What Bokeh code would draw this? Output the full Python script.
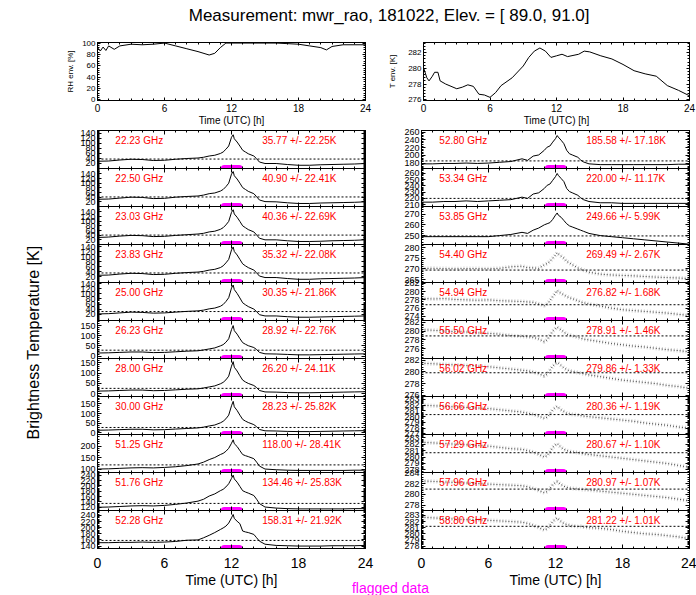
import numpy as np
from bokeh.plotting import figure
from bokeh.layouts import column, row
from bokeh.models import Range1d, FixedTicker, LinearAxis, Span, Label
from bokeh.embed import file_html
from bokeh.resources import INLINE

FONT = "Liberation Sans"

TITLE = "Measurement: mwr_rao, 181022, Elev. = [ 89.0,  91.0]"
X_LABEL = "Time (UTC) [h]"
Y_LABEL = "Brightness Temperature [K]"
FLAG_LABEL = "flagged data"
RH_LABEL = "RH env. [%]"
T_LABEL = "T env. [K]"
HOUR_TICKS = [0, 6, 12, 18, 24]
HOUR_MINOR = list(range(25))

# ---- environment panels ----
rh_hours = [0, 0.25, 0.5, 0.75, 1, 1.5, 2, 3, 4, 5, 6, 7, 8, 9, 10, 10.5, 11, 11.5, 12, 13,
            14, 15, 16, 17, 18, 19, 20, 20.5, 21, 22, 23, 24]
rh_values = [92, 86, 93, 87, 95, 89, 95, 98, 97, 98, 100, 95, 90, 85, 79, 82, 92, 100, 100, 100,
             100, 100, 100, 99, 98, 95, 92, 88, 94, 97, 97, 97]
rh_ticks = [0, 20, 40, 60, 80, 100]

t_hours = [0, 0.3, 0.5, 0.8, 1, 1.3, 1.5, 2, 3, 3.5, 4, 4.5, 5, 5.5, 6, 6.5, 7, 8, 9, 9.5,
           10, 10.5, 11, 11.5, 12, 12.5, 13, 14, 14.5, 15, 16, 17, 18, 19, 20, 21, 22, 23, 24]
t_values = [280.1, 278.8, 278.4, 279.0, 279.5, 279.5, 278.4, 278.0, 277.4, 277.6,
            277.9, 277.7, 276.7, 276.6, 276.3, 276.9, 277.8, 278.8, 280.3, 281.4,
            282.2, 282.6, 282.2, 281.4, 281.6, 281.8, 281.5, 281.8, 282.2, 282.1,
            281.6, 281.2, 280.5, 279.7, 279.3, 279.0, 277.8, 277.2, 276.5]
t_ticks = [276, 278, 280, 282]

# ---- brightness temperatures ----
hours = [0, 1, 2, 3, 4, 5, 6, 7, 8, 9, 9.5, 10, 10.5, 11, 11.25, 11.5, 11.75, 12, 12.15, 12.25,
         12.5, 12.75, 13, 13.25, 13.5, 14, 14.25, 14.5, 15, 16, 17, 18, 19, 20, 21, 22, 23, 24]

flag_interval = [11.35, 12.7]

left_freqs = ["22.23 GHz", "22.50 GHz", "23.03 GHz", "23.83 GHz", "25.00 GHz", "26.23 GHz",
              "28.00 GHz", "30.00 GHz", "51.25 GHz", "51.76 GHz", "52.28 GHz"]
left_means = [35.77, 40.90, 40.36, 35.32, 30.35, 28.92, 26.20, 28.23, 118.00, 134.46, 158.31]
left_stds = [22.25, 22.41, 22.69, 22.08, 21.86, 22.76, 24.11, 25.82, 28.41, 25.83, 21.92]
left_ymin = [-2, 0, 0, -3, -5, -12, -13, -8, 85, 108, 132]
left_ymax = [150, 163, 163, 150, 145, 175, 170, 188, 250, 250, 256]
left_ticks = [[20, 40, 60, 80, 100, 120, 140]] * 5 + [[0, 50, 100, 150]] * 3 + \
             [[100, 150, 200], [120, 140, 160, 180, 200, 220, 240], [140, 160, 180, 200, 220, 240]]

tb_22_23 = [27, 28, 32, 35, 34, 30, 31, 35, 38, 40, 43, 48, 51, 58, 64, 75, 88, 123, 133, 117,
            104, 88, 71, 64, 57, 48, 37, 24, 18, 18, 14, 11, 11, 13, 14, 15, 16, 18]
tb_22_50 = [31, 32, 36, 40, 39, 34, 35, 40, 43, 45, 49, 55, 58, 66, 73, 85, 100, 139, 150, 132,
            118, 100, 81, 73, 65, 55, 42, 28, 21, 20, 16, 13, 13, 15, 16, 17, 18, 20]
tb_23_03 = [30, 32, 36, 39, 38, 34, 35, 39, 42, 45, 48, 54, 57, 65, 72, 84, 99, 138, 149, 131,
            117, 99, 80, 72, 64, 54, 41, 27, 20, 20, 16, 13, 13, 14, 16, 17, 18, 20]
tb_23_83 = [26, 27, 31, 34, 33, 29, 30, 34, 37, 39, 42, 47, 50, 57, 64, 76, 90, 128, 140, 122,
            108, 90, 72, 64, 57, 47, 36, 23, 17, 17, 13, 10, 10, 12, 13, 14, 15, 17]
tb_25_00 = [21, 22, 25, 28, 27, 24, 25, 28, 31, 33, 36, 41, 44, 51, 58, 70, 85, 123, 135, 117,
            102, 84, 65, 57, 50, 40, 30, 18, 13, 13, 10, 8, 8, 9, 10, 11, 12, 13]
tb_26_23 = [15, 16, 18, 20, 20, 17, 18, 21, 24, 26, 30, 35, 40, 50, 56, 68, 85, 130, 150, 125,
            108, 86, 66, 58, 51, 42, 32, 18, 11, 10, 8, 6, 6, 7, 8, 9, 10, 11]
tb_28_00 = [13, 14, 16, 18, 18, 15, 16, 19, 22, 24, 28, 33, 38, 48, 55, 67, 85, 133, 155, 128,
            110, 87, 66, 57, 50, 40, 30, 16, 9, 8, 6, 5, 5, 6, 7, 8, 9, 10]
tb_30_00 = [14, 15, 17, 19, 19, 16, 17, 20, 23, 26, 30, 36, 41, 52, 60, 73, 92, 140, 163, 135,
            116, 92, 70, 61, 54, 43, 32, 18, 11, 10, 8, 7, 7, 8, 9, 10, 11, 12]
tb_51_25 = [100, 101, 103, 105, 106, 105, 107, 110, 115, 122, 130, 141, 150, 163, 168, 177, 190, 212, 227, 210,
            198, 180, 163, 158, 154, 145, 130, 113, 100, 97, 95, 94, 94, 94, 94, 94, 95, 95]
tb_51_76 = [120, 121, 123, 125, 126, 125, 127, 131, 136, 143, 150, 162, 170, 182, 187, 196, 208, 228, 240, 226,
            214, 198, 182, 177, 173, 164, 150, 134, 121, 117, 115, 114, 114, 114, 114, 114, 115, 115]
tb_52_28 = [151, 151, 152, 152, 153, 152, 153, 155, 159, 160, 167, 175, 184, 194, 199, 205, 215, 232, 243, 230,
            221, 213, 189, 186, 184, 178, 167, 156, 146, 142, 141, 140, 140, 140, 141, 141, 141, 142]

right_freqs = ["52.80 GHz", "53.34 GHz", "53.85 GHz", "54.40 GHz", "54.94 GHz", "55.50 GHz",
               "56.02 GHz", "56.66 GHz", "57.29 GHz", "57.96 GHz", "58.80 GHz"]
right_means = [185.58, 220.00, 249.66, 269.49, 276.82, 278.91, 279.86, 280.36, 280.67, 280.97, 281.22]
right_stds = [17.18, 11.17, 5.99, 2.67, 1.68, 1.46, 1.33, 1.19, 1.10, 1.07, 1.01]
right_ymin = [166, 207, 241.7, 263.7, 273, 273.8, 275.8, 276.9, 277.6, 277, 277.6]
right_ymax = [264, 268, 277, 281.4, 282.2, 282.4, 282.3, 283.5, 283.5, 284.05, 283.8]
right_ticks = [[180, 200, 220, 240, 260], [210, 220, 230, 240, 250, 260], [250, 260, 270],
               [265, 270, 275, 280], [274, 276, 278, 280, 282], [276, 278, 280, 282],
               [276, 278, 280, 282], [277, 278, 279, 280, 281, 282, 283],
               [278, 279, 280, 281, 282, 283], [278, 280, 282, 284], [278, 279, 280, 281, 282, 283]]

tb_52_80 = [178, 178, 179, 179, 180, 179, 180, 182, 184, 191, 187, 198, 201, 213, 221, 224, 234, 243, 251, 247,
            239, 230, 213, 204, 201, 195, 188, 183, 178, 176, 176, 176, 176, 176, 176, 176, 177, 177]
tb_53_34 = [214, 214, 215, 215, 216, 215, 216, 217, 218, 222, 220, 227, 229, 236, 241, 243, 249, 255, 260, 257,
            252, 247, 236, 231, 229, 225, 221, 218, 215, 213, 213, 212, 212, 212, 212, 212, 212, 212]
tb_53_85 = [249, 249, 249, 249, 249, 249, 249, 250, 251, 253, 252, 255, 257, 260, 261, 262, 265, 269, 271, 269,
            267, 264, 261, 259, 258, 256, 255, 254, 252, 250, 249, 248, 247, 246, 245, 244, 243, 242]
tb_54_40 = [270.2, 270.3, 270.2, 270.1, 270.2, 270.2, 270.1, 270.3, 271.0, 271.3, 270.6, 270.5, 270.3, 272.0,
            272.5, 273.5, 275.0, 276.5, 277.6, 277.0, 276.0, 275.0, 273.5, 272.8, 272.0, 270.5, 270.0, 269.5,
            268.5, 267.6, 267.2, 267.0, 266.8, 266.5, 266.2, 266.0, 265.8, 265.5]
tb_54_94 = [278.4, 278.2, 278.3, 278.1, 278.0, 277.9, 278.0, 277.8, 277.7, 277.6, 277.5, 277.4, 277.0, 276.6,
            277.0, 277.8, 278.8, 279.6, 280.3, 280.0, 279.6, 279.2, 278.8, 278.5, 278.3, 277.8, 277.5, 277.3,
            277.0, 276.5, 276.0, 275.6, 275.4, 275.2, 275.0, 274.8, 274.5, 274.2]
tb_55_50 = [280.3, 280.2, 280.0, 279.9, 279.8, 279.6, 279.5, 279.3, 279.0, 278.8, 278.7, 278.6, 278.2, 277.6,
            278.0, 279.0, 280.0, 280.6, 280.9, 280.7, 280.3, 279.8, 279.3, 279.1, 278.9, 278.6, 278.4, 278.2,
            278.0, 277.6, 277.2, 276.9, 276.6, 276.4, 276.1, 275.8, 275.6, 275.3]
tb_56_02 = [281.5, 281.4, 281.3, 281.2, 281.1, 281.0, 280.9, 280.7, 280.5, 280.3, 280.2, 280.0, 279.7, 279.3,
            279.6, 280.3, 281.0, 281.4, 281.6, 281.5, 281.1, 280.7, 280.4, 280.2, 280.1, 279.9, 279.8, 279.7,
            279.5, 279.2, 278.9, 278.6, 278.4, 278.2, 278.0, 277.7, 277.5, 277.2]
tb_56_66 = [282.0, 281.9, 281.8, 281.7, 281.6, 281.5, 281.4, 281.2, 281.0, 280.8, 280.6, 280.4, 280.1, 279.7,
            279.9, 280.5, 281.2, 281.6, 281.8, 281.6, 281.2, 280.9, 280.6, 280.5, 280.4, 280.3, 280.2, 280.1,
            280.0, 279.8, 279.6, 279.4, 279.2, 278.9, 278.7, 278.5, 278.2, 278.0]
tb_57_29 = [282.3, 282.2, 282.1, 282.0, 281.9, 281.8, 281.7, 281.5, 281.3, 281.2, 281.0, 280.8, 280.4, 280.0,
            280.2, 280.8, 281.5, 281.9, 282.1, 281.9, 281.5, 281.2, 281.0, 280.9, 280.8, 280.7, 280.6, 280.5,
            280.4, 280.2, 280.0, 279.8, 279.6, 279.4, 279.2, 279.0, 278.7, 278.4]
tb_57_96 = [282.5, 282.4, 282.3, 282.2, 282.1, 282.0, 281.9, 281.8, 281.7, 281.6, 281.4, 281.1, 280.7, 280.3,
            280.5, 281.1, 281.8, 282.2, 282.4, 282.2, 281.8, 281.5, 281.3, 281.2, 281.1, 281.0, 280.9, 280.9,
            280.8, 280.6, 280.4, 280.2, 280.0, 279.8, 279.6, 279.4, 279.1, 278.8]
tb_58_80 = [282.7, 282.6, 282.5, 282.4, 282.3, 282.3, 282.2, 282.1, 282.0, 281.9, 281.7, 281.4, 281.0, 280.6,
            280.8, 281.4, 282.0, 282.4, 282.6, 282.4, 282.0, 281.7, 281.5, 281.4, 281.3, 281.2, 281.2, 281.1,
            281.0, 280.9, 280.7, 280.4, 280.2, 280.0, 279.9, 279.7, 279.5, 279.2]

left_series = [tb_22_23, tb_22_50, tb_23_03, tb_23_83, tb_25_00, tb_26_23, tb_28_00, tb_30_00,
               tb_51_25, tb_51_76, tb_52_28]
right_series = [tb_52_80, tb_53_34, tb_53_85, tb_54_40, tb_54_94, tb_55_50, tb_56_02, tb_56_66,
                tb_57_29, tb_57_96, tb_58_80]
for s in left_series + right_series:
    assert len(s) == len(hours)


# ---------------------------------------------------------------------------
def base_fig(width, height, xr, yr, bl=0, br=0, bt=0, bb=0, outline=True, transparent=False):
    p = figure(width=width, height=height, x_range=xr, y_range=yr,
               output_backend="svg", toolbar_location=None,
               x_axis_location=None, y_axis_location=None,
               min_border_left=bl, min_border_right=br, min_border_top=bt, min_border_bottom=bb)
    p.grid.visible = False
    if transparent:
        p.background_fill_alpha = 0
        p.border_fill_alpha = 0
    else:
        p.background_fill_color = "white"
        p.border_fill_color = "white"
    if outline:
        p.outline_line_color = "black"
        p.outline_line_width = 1
        p.outline_line_alpha = 1
    else:
        p.outline_line_color = None
    return p


def add_axis(p, place, ticks, minor, label_size=None, standoff=2, axis_label=None,
             axis_label_size="10px", axis_label_standoff=0, tick_in=4):
    ax = LinearAxis(ticker=FixedTicker(ticks=ticks, minor_ticks=minor))
    ax.axis_line_color = "black"
    ax.major_tick_line_color = "black"
    ax.minor_tick_line_color = "black"
    ax.major_tick_in = tick_in
    ax.major_tick_out = 0
    ax.minor_tick_in = 2
    ax.minor_tick_out = 0
    ax.major_label_text_font = FONT
    if label_size:
        ax.major_label_text_color = "black"
        ax.major_label_text_font_size = label_size
        ax.major_label_standoff = standoff
    else:
        ax.major_label_text_color = None
        ax.major_label_text_font_size = "0px"
        ax.major_label_standoff = 0
    if axis_label:
        ax.axis_label = axis_label
        ax.axis_label_text_font = FONT
        ax.axis_label_text_font_size = axis_label_size
        ax.axis_label_text_font_style = "normal"
        ax.axis_label_text_color = "black"
        ax.axis_label_standoff = axis_label_standoff
    p.add_layout(ax, place)
    return ax


def minor_of(ticks, lo, hi):
    step = (ticks[1] - ticks[0]) / 5.0
    start = ticks[0] - step * np.floor((ticks[0] - lo) / step)
    return [float(v) for v in np.arange(start, hi + 1e-9, step)]


# ---- title ----
title_fig = base_fig(696, 30, Range1d(0, 696), Range1d(0, 30), outline=False)
title_fig.add_layout(Label(x=391, y=15, text=TITLE, text_align="center", text_baseline="middle",
                           text_font=FONT, text_font_size="17px", text_color="black"))

# ---- top environment row ----
rh_fig = base_fig(385, 98, Range1d(0, 24), Range1d(-1, 101), bl=97, br=20, bt=12, bb=27)
rh_fig.line(rh_hours, rh_values, line_color="black", line_width=1)
add_axis(rh_fig, "below", HOUR_TICKS, HOUR_MINOR, label_size="10px", standoff=3,
         axis_label=X_LABEL, axis_label_size="10px", axis_label_standoff=0, tick_in=3)
add_axis(rh_fig, "above", HOUR_TICKS, HOUR_MINOR, tick_in=3)
add_axis(rh_fig, "left", rh_ticks, list(range(0, 101, 4)), label_size="8px", standoff=2,
         axis_label=RH_LABEL, axis_label_size="8px", axis_label_standoff=4, tick_in=3)
add_axis(rh_fig, "right", rh_ticks, list(range(0, 101, 4)), tick_in=3)

t_fig = base_fig(311, 98, Range1d(0, 24), Range1d(275.9, 283.3), bl=36, br=7, bt=12, bb=27)
t_fig.line(t_hours, t_values, line_color="black", line_width=1)
add_axis(t_fig, "below", HOUR_TICKS, HOUR_MINOR, label_size="10px", standoff=3,
         axis_label=X_LABEL, axis_label_size="10px", axis_label_standoff=0, tick_in=3)
add_axis(t_fig, "above", HOUR_TICKS, HOUR_MINOR, tick_in=3)
add_axis(t_fig, "left", t_ticks, minor_of(t_ticks, 275.9, 283.3), label_size="8px", standoff=2,
         axis_label=T_LABEL, axis_label_size="8px", axis_label_standoff=8, tick_in=3)
add_axis(t_fig, "right", t_ticks, minor_of(t_ticks, 275.9, 283.3), tick_in=3)

PANEL_H = 38       # frame height of one channel panel
PAD = 6            # transparent overlap so edge tick labels are not cut
BOTTOM_BORDER = 43 # room for the time axis under the last panel


# ---- brightness temperature panels ----
def make_panel(i, n, series, ymin, ymax, ticks, mean, std, freq, width, bl, br, noisy):
    top = PAD
    bottom = BOTTOM_BORDER if i == n - 1 else PAD
    p = base_fig(width, PANEL_H + top + bottom, Range1d(0, 24), Range1d(ymin, ymax),
                 bl=bl, br=br, bt=top, bb=bottom, transparent=True)
    p.margin = (-(PAD - 2) if i == 0 else -2 * PAD, 0, 0, 0)
    minor = minor_of(ticks, ymin, ymax)
    if i == n - 1:
        add_axis(p, "below", HOUR_TICKS, HOUR_MINOR, label_size="14px", standoff=9,
                 axis_label=X_LABEL, axis_label_size="14px", axis_label_standoff=1)
    else:
        add_axis(p, "below", HOUR_TICKS, HOUR_MINOR)
    add_axis(p, "above", HOUR_TICKS, HOUR_MINOR)
    add_axis(p, "left", ticks, minor, label_size="9px", standoff=2)
    add_axis(p, "right", ticks, minor)
    p.add_layout(Span(location=mean, dimension="width", line_color="black",
                      line_dash="2 2", line_width=1))
    if noisy:
        p.line(hours, series, line_color="#777777", line_width=4, line_alpha=0.35, line_dash="1 2")
        p.line(hours, series, line_color="#222222", line_width=1, line_alpha=0.8, line_dash="1 2")
    else:
        p.line(hours, series, line_color="black", line_width=1)
    p.segment(x0=[flag_interval[0]], y0=[ymin], x1=[flag_interval[1]], y1=[ymin],
              line_color="#ff00ff", line_width=7, line_cap="round")
    ylab = ymin + 0.74 * (ymax - ymin)
    p.add_layout(Label(x=1.6, y=ylab, text=freq, text_color="red", text_font=FONT,
                       text_font_size="10px", text_baseline="middle"))
    p.add_layout(Label(x=14.75, y=ylab, text=f"{mean:.2f} +/- {std:5.2f}K", text_color="red",
                       text_font=FONT, text_font_size="10px", text_baseline="middle"))
    return p


n = len(left_freqs)
left_panels = [make_panel(i, n, left_series[i], left_ymin[i], left_ymax[i], left_ticks[i],
                          left_means[i], left_stds[i], left_freqs[i], 335, 47, 20, False)
               for i in range(n)]
right_panels = [make_panel(i, n, right_series[i], right_ymin[i], right_ymax[i], right_ticks[i],
                           right_means[i], right_stds[i], right_freqs[i], 311, 36, 7, i >= 3)
                for i in range(n)]

MAIN_H = 2 + PANEL_H * n + BOTTOM_BORDER
ylab_fig = base_fig(50, MAIN_H, Range1d(0, 50), Range1d(0, MAIN_H), outline=False)
ylab_fig.add_layout(Label(x=33, y=MAIN_H - 214, text=Y_LABEL, angle=np.pi / 2, text_align="center",
                          text_baseline="middle", text_font=FONT, text_font_size="16px",
                          text_color="black"))

FOOT_H = 18
footer_fig = base_fig(696, FOOT_H, Range1d(0, 696), Range1d(0, FOOT_H), outline=False,
                      transparent=True)
footer_fig.margin = (595 - 30 - 98 - MAIN_H - FOOT_H, 0, 0, 0)
footer_fig.add_layout(Label(x=390, y=7.8, text=FLAG_LABEL, text_align="center",
                            text_baseline="middle", text_font=FONT, text_font_size="14px",
                            text_color="#ff00ff"))

layout = column(
    title_fig,
    row(rh_fig, t_fig),
    row(ylab_fig, column(*left_panels), column(*right_panels)),
    footer_fig,
)

open("out.html", "w").write(file_html(layout, INLINE))
